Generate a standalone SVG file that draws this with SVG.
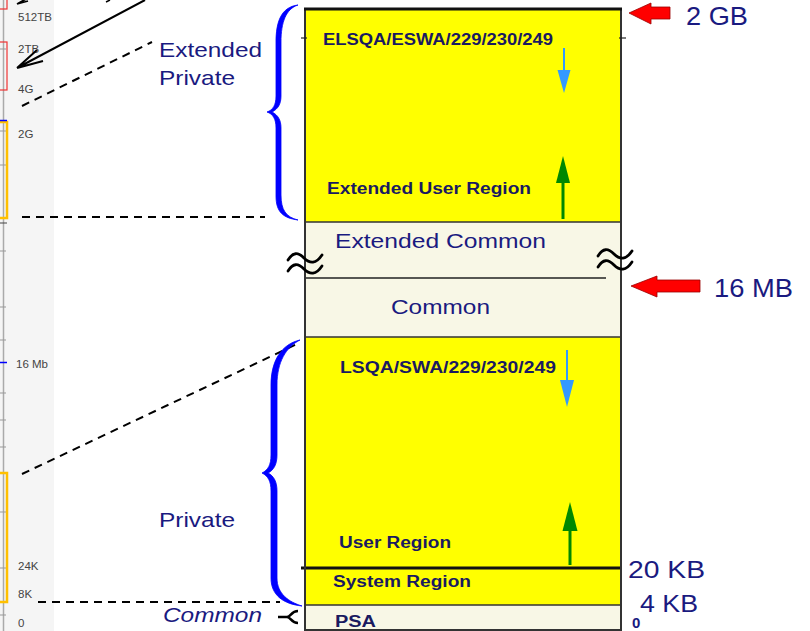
<svg xmlns="http://www.w3.org/2000/svg" width="810" height="631" viewBox="0 0 810 631">
<style>
.lbl{font-family:"Liberation Sans",Arial,sans-serif;fill:#1a1a80}
.big{font-size:21px}
.bold{font-size:16px;font-weight:bold;fill:#1a1a60}
.scale{font-family:"Liberation Sans",Arial,sans-serif;font-size:11.5px;fill:#444}
.dash{stroke:#000;stroke-width:2;stroke-dasharray:8 6;fill:none}
.brace{fill:#0000ff;stroke:#0000ff;stroke-width:0.8;stroke-linejoin:round}
.tick{stroke:#999;stroke-width:1}
.wave{fill:none;stroke:#000;stroke-width:2.8;stroke-linecap:round}
.redarrow{fill:#ff0000;stroke:#900;stroke-width:0.8}
</style>
<defs>
<path id="wave" d="M0,6 C5,-2 10,-2 16,4 C22,10 28,10 34,1"/>
</defs>
<rect width="810" height="631" fill="#fff"/>

<g id="ruler">
<rect x="0" y="0" width="54" height="631" fill="#f5f5f5"/>
<line x1="3.5" y1="0" x2="3.5" y2="631" stroke="#aaa" stroke-width="1.5"/>
<g class="tick">
<line x1="0" y1="49" x2="6" y2="49"/><line x1="0" y1="131" x2="6" y2="131"/><line x1="0" y1="165" x2="6" y2="165"/>
<line x1="0" y1="223" x2="7" y2="223" stroke="#444"/><line x1="0" y1="251" x2="6" y2="251"/><line x1="0" y1="307" x2="6" y2="307"/>
<line x1="0" y1="340" x2="6" y2="340"/><line x1="0" y1="393" x2="6" y2="393"/><line x1="0" y1="420" x2="6" y2="420"/>
<line x1="0" y1="447" x2="6" y2="447"/><line x1="0" y1="512" x2="6" y2="512"/><line x1="0" y1="568" x2="6" y2="568"/>
<line x1="0" y1="615" x2="6" y2="615"/>
</g>
<rect x="-2" y="-5" width="9" height="14" fill="none" stroke="#ee3333" stroke-width="1.2"/>
<rect x="-2" y="42" width="9" height="48" fill="none" stroke="#ee3333" stroke-width="1.2"/>
<rect x="-3" y="122" width="10" height="96" fill="none" stroke="#ffc000" stroke-width="2.5"/>
<rect x="-3" y="473" width="10" height="129" fill="none" stroke="#ffc000" stroke-width="2.5"/>
<line x1="0" y1="120.5" x2="7" y2="120.5" stroke="#0000ff" stroke-width="1.5"/>
<line x1="0" y1="362.5" x2="7" y2="362.5" stroke="#0000ff" stroke-width="1.5"/>
<text class="scale" x="18" y="21">512TB</text>
<text class="scale" x="18" y="53">2TB</text>
<text class="scale" x="18" y="93">4G</text>
<text class="scale" x="18" y="138">2G</text>
<text class="scale" x="16" y="368">16 Mb</text>
<text class="scale" x="18" y="570">24K</text>
<text class="scale" x="18" y="598">8K</text>
<text class="scale" x="18" y="627">0</text>
</g>

<g id="connectors">
<path d="M17,4 L26,-1 M17,4 L28,1" stroke="#000" stroke-width="1.8" fill="none"/>
<line x1="106" y1="2" x2="110" y2="0" stroke="#000" stroke-width="1.5"/>
<path d="M145,0 L17,68 M17,68 L37,50 M17,68 L43,61" stroke="#000" stroke-width="2" fill="none"/>
<line class="dash" x1="22" y1="106" x2="152" y2="42"/>
<line class="dash" x1="22" y1="217" x2="265" y2="217"/>
<line class="dash" x1="22" y1="474" x2="297" y2="344"/>
<line class="dash" x1="38" y1="602" x2="280" y2="602"/>
</g>

<g id="map">
<rect x="305" y="9" width="316" height="213" fill="#ffff00"/>
<rect x="305" y="222" width="316" height="115" fill="#f8f7e6"/>
<rect x="305" y="337" width="316" height="268" fill="#ffff00"/>
<rect x="305" y="605" width="316" height="25" fill="#f8f7e6"/>
<line x1="305" y1="222" x2="621" y2="222" stroke="#333" stroke-width="1.5"/>
<line x1="305" y1="278" x2="606" y2="278" stroke="#222" stroke-width="1.5"/>
<line x1="305" y1="337" x2="621" y2="337" stroke="#333" stroke-width="1.5"/>
<line x1="301" y1="568" x2="621" y2="568" stroke="#111" stroke-width="3"/>
<line x1="305" y1="605" x2="621" y2="605" stroke="#333" stroke-width="1.5"/>
<rect x="305" y="9" width="316" height="621" fill="none" stroke="#333" stroke-width="2"/>
<line x1="304" y1="9" x2="622" y2="9" stroke="#111" stroke-width="3"/>
<line x1="301" y1="38" x2="307" y2="38" stroke="#222" stroke-width="1.2"/>
<line x1="619" y1="38" x2="626" y2="38" stroke="#222" stroke-width="1.2"/>
</g>

<g id="extended-private">
<text class="lbl bold" x="323" y="45" textLength="230" lengthAdjust="spacingAndGlyphs">ELSQA/ESWA/229/230/249</text>
<line x1="564" y1="48" x2="564" y2="72" stroke="#3399ff" stroke-width="2"/>
<polygon points="557.5,70 570.5,70 564,93" fill="#3399ff"/>
<text class="lbl bold" x="327" y="194" textLength="204" lengthAdjust="spacingAndGlyphs">Extended User Region</text>
<line x1="563" y1="180" x2="563" y2="219" stroke="#008800" stroke-width="3"/>
<polygon points="556,183 570,183 563,156" fill="#008800"/>
</g>

<g id="extended-common">
<text class="lbl big" x="335" y="248" textLength="211" lengthAdjust="spacingAndGlyphs">Extended Common</text>
<use href="#wave" x="288" y="254" class="wave"/>
<use href="#wave" x="288" y="265" class="wave"/>
<use href="#wave" x="598" y="250" class="wave"/>
<use href="#wave" x="598" y="261" class="wave"/>
</g>

<g id="common">
<text class="lbl big" x="391" y="314" textLength="99" lengthAdjust="spacingAndGlyphs">Common</text>
</g>

<g id="private">
<text class="lbl bold" x="340" y="373" textLength="216" lengthAdjust="spacingAndGlyphs">LSQA/SWA/229/230/249</text>
<line x1="567" y1="350" x2="567" y2="382" stroke="#3399ff" stroke-width="2"/>
<polygon points="560,380 574,380 567,407" fill="#3399ff"/>
<text class="lbl bold" x="339" y="548" textLength="112" lengthAdjust="spacingAndGlyphs">User Region</text>
<line x1="570" y1="528" x2="570" y2="565" stroke="#008800" stroke-width="3"/>
<polygon points="562.5,531 577.5,531 570,502" fill="#008800"/>
</g>

<g id="system-region">
<text class="lbl bold" x="333" y="587" textLength="138" lengthAdjust="spacingAndGlyphs">System Region</text>
</g>

<g id="psa">
<text class="lbl bold" x="335" y="627" textLength="41" lengthAdjust="spacingAndGlyphs">PSA</text>
</g>

<g id="brace-extended-private">
<path class="brace" d="M298,5 C281,7 276,22 276,42 L276,96 C276,105 273,110 267,112 C273,114 276,119 276,128 L276,196 C276,212 283,218 298,220 C286,217 281,210 281,195 L281,128 C281,120 278,115 272,112 C278,109 281,104 281,96 L281,42 C281,22 286,9 298,5 Z"/>
<text class="lbl big" x="159" y="57" textLength="103" lengthAdjust="spacingAndGlyphs">Extended</text>
<text class="lbl big" x="159" y="85" textLength="76" lengthAdjust="spacingAndGlyphs">Private</text>
</g>

<g id="brace-private">
<path class="brace" d="M300,340 C282,344 271,360 271,385 L271,455 C271,465 268,470 262,473 C268,476 271,481 271,491 L271,578 C271,595 283,604 302,606 C289,602 277,594 277,578 L277,491 C277,482 274,476 268,473 C274,470 277,464 277,455 L277,385 C277,362 286,347 300,340 Z"/>
<text class="lbl big" x="159" y="527" textLength="76" lengthAdjust="spacingAndGlyphs">Private</text>
</g>

<g id="brace-common">
<path d="M278,617 L287,617 M298,611 C291,611 291,617 287,617 C291,617 291,623 298,623" stroke="#000" stroke-width="2.5" fill="none"/>
<text class="lbl big" x="163" y="622" font-style="italic" textLength="99" lengthAdjust="spacingAndGlyphs">Common</text>
</g>

<g id="marker-2gb">
<polygon class="redarrow" points="629,13 651,3 651,7 670,7 670,19 651,19 651,24"/>
<text class="lbl" x="686" y="25" font-size="25" textLength="62" lengthAdjust="spacingAndGlyphs">2 GB</text>
</g>

<g id="marker-16mb">
<polygon class="redarrow" points="631,286 657,276 657,280 700,280 700,292 657,292 657,297"/>
<text class="lbl" x="714" y="297" font-size="25" textLength="79" lengthAdjust="spacingAndGlyphs">16 MB</text>
</g>

<g id="marker-low">
<text class="lbl" x="628" y="578" font-size="24" textLength="77" lengthAdjust="spacingAndGlyphs">20 KB</text>
<text class="lbl" x="640" y="612" font-size="24" textLength="58" lengthAdjust="spacingAndGlyphs">4 KB</text>
<text class="lbl" x="632" y="628" font-size="15" font-weight="bold" fill="#1a1a60">0</text>
</g>
</svg>
